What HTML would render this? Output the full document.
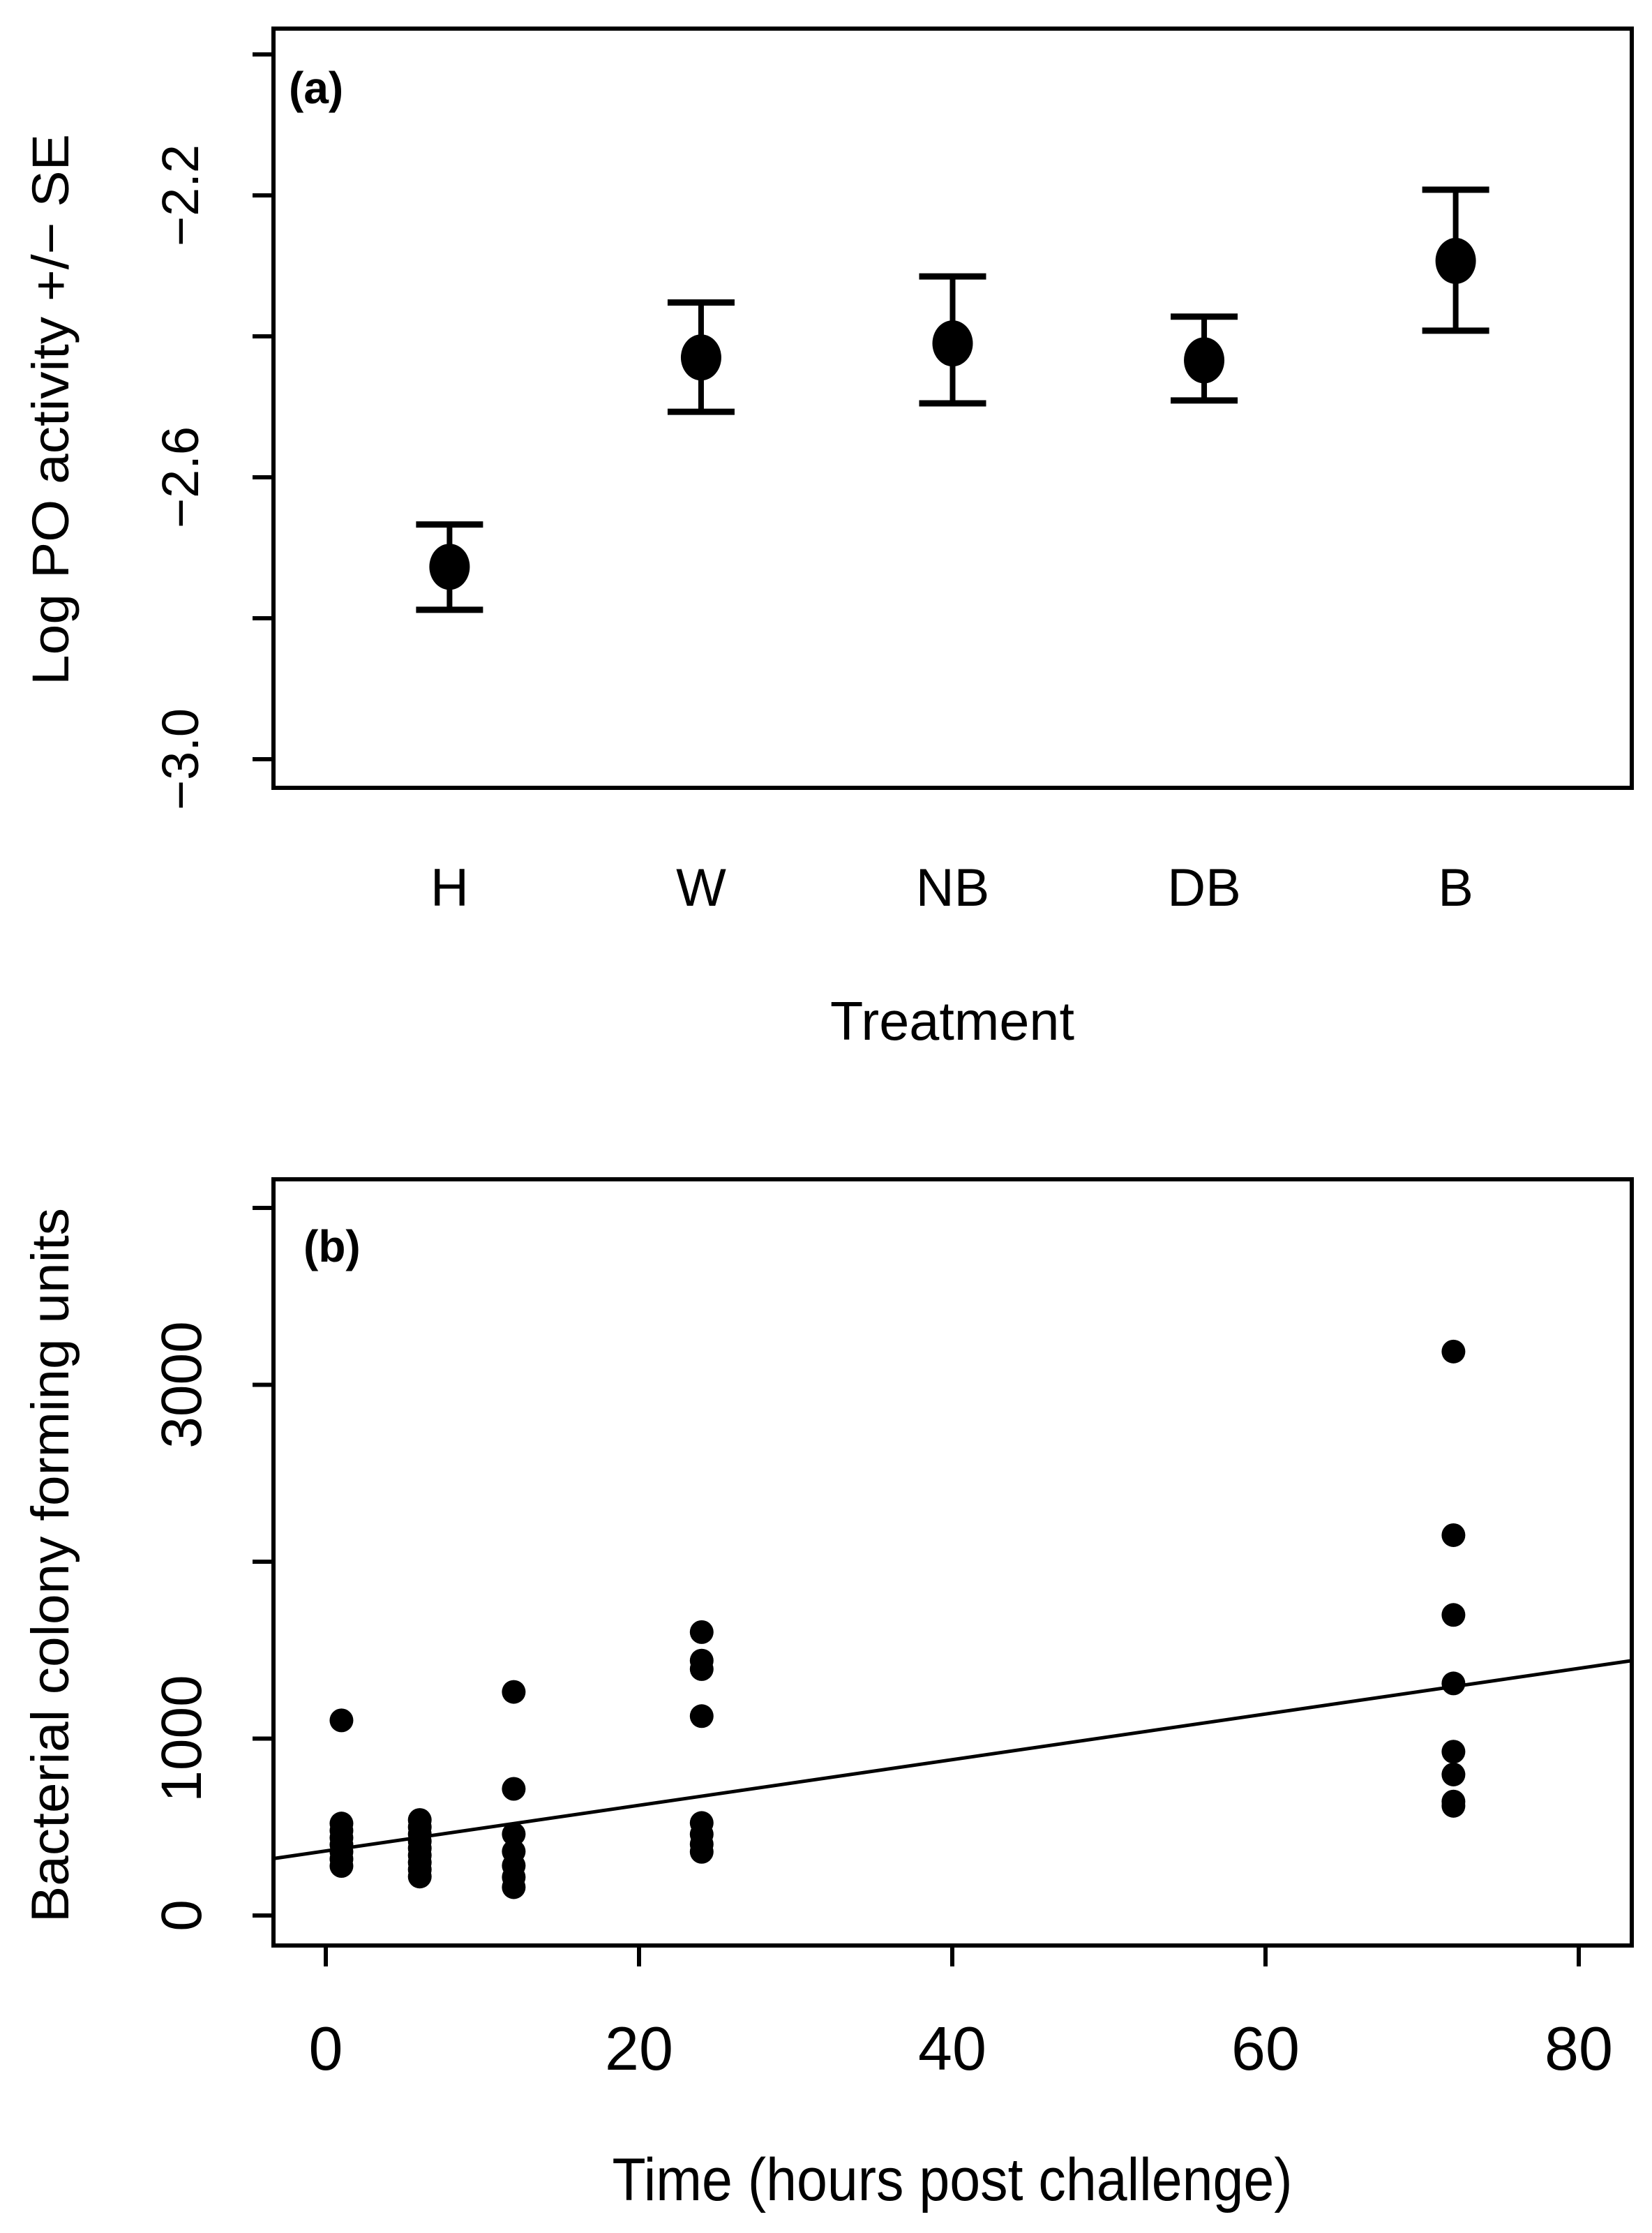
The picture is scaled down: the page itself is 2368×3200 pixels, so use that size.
<!DOCTYPE html>
<html><head><meta charset="utf-8"><style>
html,body{margin:0;padding:0;background:#fff;}
svg{display:block;}
text{font-family:"Liberation Sans",Arial,sans-serif;fill:#000;}
</style></head>
<body>
<svg id="fig" width="2368" height="3200" viewBox="0 0 2368 3200" xmlns="http://www.w3.org/2000/svg">
<g id="pa"></g>
<g id="pb"></g>
</svg>
<script>
// Panel (a) data
const treatments = ["H","W","NB","DB","B"];
const poMean = [-2.727,-2.430,-2.410,-2.434,-2.293];
const poUpper = [-2.667,-2.352,-2.315,-2.372,-2.192];
const poLower = [-2.788,-2.507,-2.495,-2.491,-2.392];
const aTicks = [-2.0,-2.2,-2.4,-2.6,-2.8,-3.0];
const aTickLabels = ["","−2.2","","−2.6","","−3.0"];
// Panel (b) data
const timeX = [1,1,1,1,1,1,1,1, 6,6,6,6,6,6,6,6,6, 12,12,12,12,12,12,12, 24,24,24,24,24,24,24,24, 72,72,72,72,72,72,72,72];
const cfuY = [1103,520,480,440,400,360,320,280, 540,500,460,420,380,340,300,260,220, 1264,716,460,362,282,217,160, 1602,1441,1393,1127,523,459,403,360, 3188,2150,1699,1312,926,797,644,620];
const bXTicks = [0,20,40,60,80];
const bYTicks = [0,1000,2000,3000,4000];
const bYTickLabels = ["0","1000","","3000",""];
const fitIntercept = 365;
const fitSlope = 12.9;

const NS="http://www.w3.org/2000/svg";
function mk(parent,tag,attrs,txt){const e=document.createElementNS(NS,tag);for(const k in attrs)e.setAttribute(k,attrs[k]);if(txt!==undefined)e.textContent=txt;parent.appendChild(e);return e;}

// ---------- Panel A ----------
const pa=document.getElementById('pa');
const aL=392,aR=2339,aT=41,aB=1129;
const ay=v=>280+(-2.2-v)*1010;
const ax=i=>aL+(i+1-0.3)/5.4*(aR-aL);
let r=mk(pa,'rect',{x:aL,y:aT,width:aR-aL,height:aB-aT,fill:'none',stroke:'#000','stroke-width':6});


aTicks.forEach((t,i)=>{
  let l=mk(pa,'line',{x1:aL-30,x2:aL,y1:ay(t),y2:ay(t),stroke:'#000','stroke-width':6});
  
  
  if(aTickLabels[i]){
    let tx=mk(pa,'text',{x:0,y:0,'font-size':74,'text-anchor':'middle',transform:`translate(284,${ay(t)}) rotate(-90)`},aTickLabels[i]);
    
    
  }
});
treatments.forEach((c,i)=>{
  const x=ax(i);
  let g=mk(pa,'g',{});
  
  
  mk(g,'line',{x1:x,x2:x,y1:ay(poUpper[i]),y2:ay(poLower[i]),stroke:'#000','stroke-width':8});
  mk(g,'line',{x1:x-48,x2:x+48,y1:ay(poUpper[i]),y2:ay(poUpper[i]),stroke:'#000','stroke-width':9});
  mk(g,'line',{x1:x-48,x2:x+48,y1:ay(poLower[i]),y2:ay(poLower[i]),stroke:'#000','stroke-width':9});
  let p=mk(pa,'ellipse',{cx:x,cy:ay(poMean[i]),rx:29,ry:33,fill:'#000'});
  
  
  let t=mk(pa,'text',{x:x,y:1298,'font-size':76,'text-anchor':'middle'},c);
  
  
});
let la=mk(pa,'text',{x:414,y:148,'font-size':64,'font-weight':'bold'},'(a)');


let xta=mk(pa,'text',{x:1365,y:1490,'font-size':78,'text-anchor':'middle',textLength:350,lengthAdjust:'spacingAndGlyphs'},'Treatment');


let yta=mk(pa,'text',{x:0,y:0,'font-size':74,'text-anchor':'middle',textLength:790,lengthAdjust:'spacingAndGlyphs',transform:'translate(98,587) rotate(-90)'},'Log PO activity +/− SE');



// ---------- Panel B ----------
const pb=document.getElementById('pb');
const bL=392,bR=2339,bT=1690,bBt=2788;
const bx=v=>467+v*22.45;
const by=v=>2745-v*0.2535;
let rb=mk(pb,'rect',{x:bL,y:bT,width:bR-bL,height:bBt-bT,fill:'none',stroke:'#000','stroke-width':6});


bYTicks.forEach((t,i)=>{
  let l=mk(pb,'line',{x1:bL-30,x2:bL,y1:by(t),y2:by(t),stroke:'#000','stroke-width':6});
  
  
  if(bYTickLabels[i]){
    let tx=mk(pb,'text',{x:0,y:0,'font-size':82,'text-anchor':'middle',transform:`translate(288,${by(t)}) rotate(-90)`},bYTickLabels[i]);
    
    
  }
});
bXTicks.forEach(t=>{
  let l=mk(pb,'line',{x1:bx(t),x2:bx(t),y1:bBt,y2:bBt+30,stroke:'#000','stroke-width':6});
  
  
  let tx=mk(pb,'text',{x:bx(t),y:2966,'font-size':88,'text-anchor':'middle'},String(t));
  
  
});
const x0=-3.4,x1=83.4;
let fl=mk(pb,'line',{x1:bx(x0),y1:by(fitIntercept+fitSlope*x0),x2:bx(x1),y2:by(fitIntercept+fitSlope*x1),stroke:'#000','stroke-width':5});


timeX.forEach((t,i)=>{
  let c=mk(pb,'circle',{cx:bx(t),cy:by(cfuY[i]),r:17,fill:'#000'});
  
  
});
let lb=mk(pb,'text',{x:435,y:1808,'font-size':64,'font-weight':'bold'},'(b)');


let xtb=mk(pb,'text',{x:1365,y:3153,'font-size':86,'text-anchor':'middle',textLength:975,lengthAdjust:'spacingAndGlyphs'},'Time (hours post challenge)');


let ytb=mk(pb,'text',{x:0,y:0,'font-size':76,'text-anchor':'middle',textLength:1024,lengthAdjust:'spacingAndGlyphs',transform:'translate(98,2243) rotate(-90)'},'Bacterial colony forming units');


</script>
</body></html>
